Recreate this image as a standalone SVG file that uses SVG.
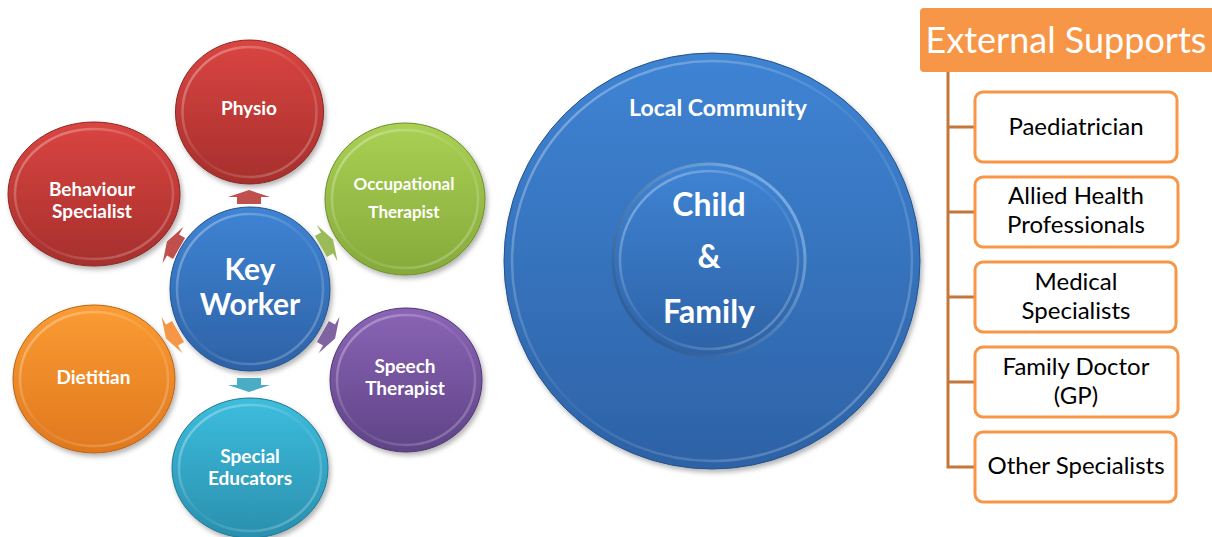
<svg xmlns="http://www.w3.org/2000/svg" width="1212" height="537" viewBox="0 0 1212 537">
<defs>
<linearGradient id="gRed" x1="0" y1="0" x2="0" y2="1"><stop offset="0" stop-color="#DA4541"/><stop offset="1" stop-color="#A62F2D"/></linearGradient>
<linearGradient id="gGreen" x1="0" y1="0" x2="0" y2="1"><stop offset="0" stop-color="#AAD054"/><stop offset="1" stop-color="#86AA3A"/></linearGradient>
<linearGradient id="gPurple" x1="0" y1="0" x2="0" y2="1"><stop offset="0" stop-color="#8B64B6"/><stop offset="1" stop-color="#5E4486"/></linearGradient>
<linearGradient id="gTeal" x1="0" y1="0" x2="0" y2="1"><stop offset="0" stop-color="#3DBDDD"/><stop offset="1" stop-color="#2A8FAE"/></linearGradient>
<linearGradient id="gOrange" x1="0" y1="0" x2="0" y2="1"><stop offset="0" stop-color="#FB9C33"/><stop offset="1" stop-color="#E0781E"/></linearGradient>
<linearGradient id="gBlue" x1="0" y1="0" x2="0" y2="1"><stop offset="0" stop-color="#3F84D4"/><stop offset="1" stop-color="#2D62A6"/></linearGradient>
<linearGradient id="gRim" x1="0" y1="0" x2="1" y2="1"><stop offset="0" stop-color="#FFFFFF" stop-opacity="0.4"/><stop offset="0.5" stop-color="#FFFFFF" stop-opacity="0.05"/><stop offset="1" stop-color="#FFFFFF" stop-opacity="0.3"/></linearGradient>
<linearGradient id="gInnerEdge" x1="0" y1="1" x2="1" y2="0"><stop offset="0" stop-color="#1E4A80" stop-opacity="0.8"/><stop offset="1" stop-color="#8FC0F5" stop-opacity="0.9"/></linearGradient>
<filter id="shadow" x="-20%" y="-20%" width="140%" height="140%"><feDropShadow dx="2" dy="3" stdDeviation="2.5" flood-color="#000" flood-opacity="0.3"/></filter>
<polygon id="arrow" points="0,-7 21,0 12,0 12,7 -12,7 -12,0 -21,0"/>
</defs>
<style>
.bub{filter:url(#shadow);}
.rim{fill:none;stroke:url(#gRim);stroke-width:2.5;}
.bt{font-family:Lato,"Open Sans",sans-serif;font-weight:bold;fill:#FFFFFF;text-anchor:middle;}
.box{fill:#FFFFFF;stroke:#F79646;stroke-width:3;}
.boxt{font-family:Lato,"Open Sans",sans-serif;font-size:24px;fill:#000000;text-anchor:middle;}
.tree{stroke:#C4773A;stroke-width:3;fill:none;}
</style>
<rect width="1212" height="537" fill="#FFFFFF"/>

<g id="physio">
<ellipse class="bub" cx="249.5" cy="112" rx="74" ry="72" fill="url(#gRed)" stroke="#8B2523"/>
<ellipse class="rim" cx="249.5" cy="112" rx="67" ry="65"/>
<text class="bt" x="249" y="115" font-size="19">Physio</text>
</g>
<g id="behaviour-specialist">
<ellipse class="bub" cx="94" cy="194" rx="86" ry="72" fill="url(#gRed)" stroke="#8B2523"/>
<ellipse class="rim" cx="94" cy="194" rx="79" ry="65"/>
<text class="bt" x="92" y="196" font-size="19">Behaviour</text>
<text class="bt" x="92" y="218" font-size="19">Specialist</text>
</g>
<g id="occupational-therapist">
<ellipse class="bub" cx="405" cy="199" rx="80" ry="76" fill="url(#gGreen)" stroke="#6E8E2E"/>
<ellipse class="rim" cx="405" cy="199" rx="73" ry="69"/>
<text class="bt" x="404" y="190" font-size="17">Occupational</text>
<text class="bt" x="404" y="218" font-size="17">Therapist</text>
</g>
<g id="dietitian">
<ellipse class="bub" cx="94" cy="379" rx="81" ry="74" fill="url(#gOrange)" stroke="#B86218"/>
<ellipse class="rim" cx="94" cy="379" rx="74" ry="67"/>
<text class="bt" x="93.5" y="384" font-size="19">Dietitian</text>
</g>
<g id="speech-therapist">
<ellipse class="bub" cx="406" cy="380" rx="76" ry="72" fill="url(#gPurple)" stroke="#4C3670"/>
<ellipse class="rim" cx="406" cy="380" rx="69" ry="65"/>
<text class="bt" x="405" y="373" font-size="19">Speech</text>
<text class="bt" x="405" y="395" font-size="19">Therapist</text>
</g>
<g id="special-educators">
<ellipse class="bub" cx="250" cy="468" rx="78" ry="70" fill="url(#gTeal)" stroke="#227893"/>
<ellipse class="rim" cx="250" cy="468" rx="71" ry="63"/>
<text class="bt" x="250" y="463" font-size="19">Special</text>
<text class="bt" x="250" y="485" font-size="19">Educators</text>
</g>
<g id="key-worker">
<ellipse class="bub" cx="250" cy="289" rx="80" ry="82" fill="url(#gBlue)" stroke="#25518A"/>
<ellipse class="rim" cx="250" cy="289" rx="73" ry="75"/>
<text class="bt" x="250" y="280" font-size="30">Key</text>
<text class="bt" x="250" y="315" font-size="30">Worker</text>
</g>

<g id="connectors">
<use href="#arrow" fill="#C0504D" transform="translate(249,197)"/>
<use href="#arrow" fill="#9BBB59" transform="translate(327,243) rotate(60)"/>
<use href="#arrow" fill="#8064A2" transform="translate(329,335) rotate(120)"/>
<use href="#arrow" fill="#4BACC6" transform="translate(249,385) rotate(180)"/>
<use href="#arrow" fill="#F79646" transform="translate(172,335) rotate(-120)"/>
<use href="#arrow" fill="#C0504D" transform="translate(173,245) rotate(-60)"/>
<path class="tree" d="M948,72 V468 M946.5,127 H975 M946.5,212 H975 M946.5,297 H975 M946.5,382 H975 M946.5,467 H975"/>
</g>

<g id="local-community">
<circle class="bub" cx="712" cy="261" r="208" fill="url(#gBlue)" stroke="#25518A"/>
<circle class="rim" cx="712" cy="261" r="200"/>
<text class="bt" x="718" y="116" font-size="23">Local Community</text>
</g>
<g id="child-family">
<circle cx="709" cy="260" r="96" fill="url(#gBlue)" stroke="url(#gInnerEdge)" stroke-width="3"/>
<circle class="rim" cx="709" cy="260" r="89"/>
<text class="bt" x="709" y="216" font-size="32">Child</text>
<text class="bt" x="709" y="268" font-size="32">&amp;</text>
<text class="bt" x="709" y="323" font-size="32">Family</text>
</g>

<g id="external-supports">
<rect x="920" y="8" width="300" height="64" rx="4" fill="#F79646"/>
<text x="1066" y="53" font-family="Lato,'Open Sans',sans-serif" font-size="36" fill="#FFFFFF" text-anchor="middle">External Supports</text>
</g>
<g id="paediatrician">
<rect class="box" x="975" y="92" width="202" height="70" rx="8"/>
<text class="boxt" x="1076" y="135">Paediatrician</text>
</g>
<g id="allied-health">
<rect class="box" x="975" y="177" width="203" height="70" rx="8"/>
<text class="boxt" x="1076" y="204">Allied Health</text>
<text class="boxt" x="1076" y="233">Professionals</text>
</g>
<g id="medical-specialists">
<rect class="box" x="975" y="262" width="201" height="70" rx="8"/>
<text class="boxt" x="1076" y="290">Medical</text>
<text class="boxt" x="1076" y="319">Specialists</text>
</g>
<g id="family-doctor">
<rect class="box" x="975" y="347" width="203" height="70" rx="8"/>
<text class="boxt" x="1076" y="375">Family Doctor</text>
<text class="boxt" x="1076" y="404">(GP)</text>
</g>
<g id="other-specialists">
<rect class="box" x="975" y="432" width="201" height="70" rx="8"/>
<text class="boxt" x="1076" y="474">Other Specialists</text>
</g>
</svg>
